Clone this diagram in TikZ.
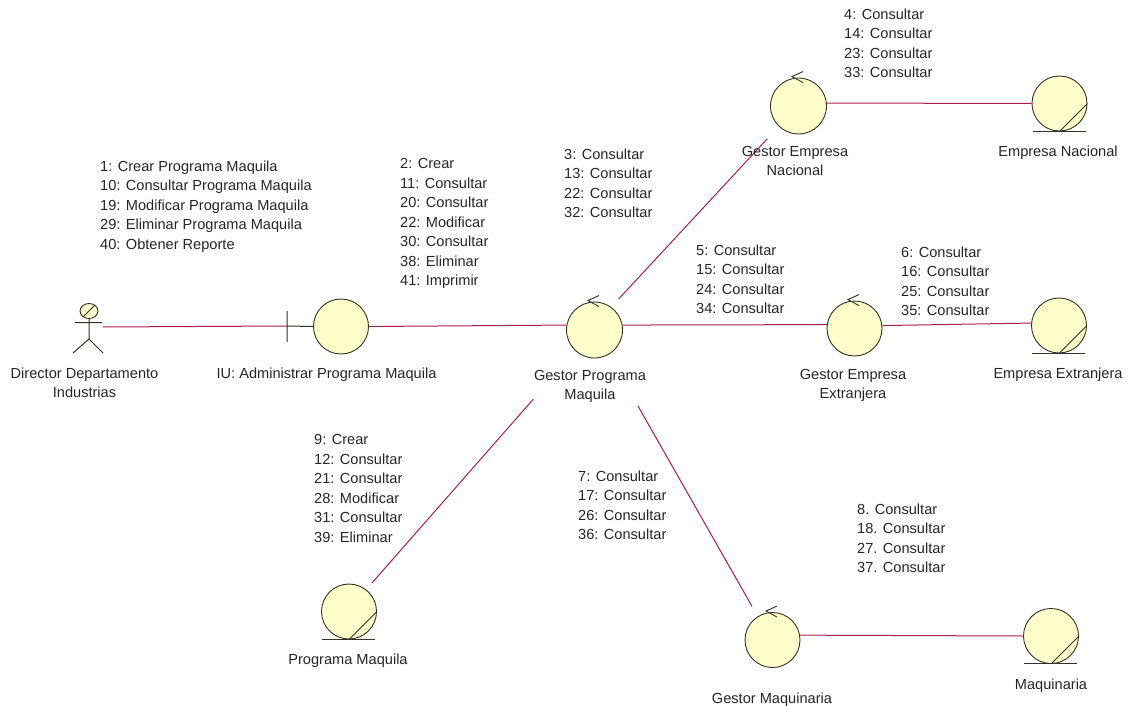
\documentclass[tikz,border=0pt]{standalone}
\usepackage{fontspec}
\usetikzlibrary{shapes.geometric}
\setmainfont{Liberation Sans}
\definecolor{fillc}{RGB}{255,255,204}
\definecolor{linkc}{RGB}{170,30,75}
\definecolor{edgec}{RGB}{50,50,40}
\tikzset{
  obj/.style={circle,draw=edgec,fill=fillc,line width=0.9pt,minimum size=#1,inner sep=0pt},
  obj/.default=55pt,
  assoc/.style={draw=linkc,line width=1pt},
  markline/.style={draw=edgec,line width=1pt},
  txt/.style={inner sep=0pt,font=\fontsize{14.6}{19.5}\selectfont,text=black!85},
  msg/.style={txt,align=left,anchor=north west},
  captiontext/.style={txt,align=center,anchor=north}
}
\begin{document}
\begin{tikzpicture}[x=1pt,y=-1pt]
\useasboundingbox (0,0) rectangle (1132,706);
% objects
\node[obj] (iu) at (341,326.5) {};
\node[obj=56pt] (gp) at (594.5,330) {};
\node[obj=56pt] (gn) at (798.5,106) {};
\node[obj] (en) at (1059.5,103.5) {};
\node[obj] (ge) at (854.5,328.5) {};
\node[obj] (ex) at (1059,325.5) {};
\node[obj] (gm) at (772.5,640) {};
\node[obj] (ma) at (1051,636) {};
\node[obj] (pm) at (349,611.5) {};
% actor
\node[ellipse,draw=edgec,fill=fillc,line width=0.9pt,minimum width=18pt,minimum height=15pt,inner sep=0pt] (head) at (89,311) {};
\coordinate (hip) at (89,339);
\coordinate (armL) at (75,322.5);
\coordinate (armR) at (102,322.5);
\coordinate (footL) at (73,353);
\coordinate (footR) at (103,353);
\coordinate (actorhand) at (103,327);
\draw[markline] (head.south) -- (hip) (armL) -- (armR) (hip) -- (footL) (hip) -- (footR);
\draw[markline] (head.225) -- (head.45);
% boundary
\coordinate (barT) at (287,311);
\coordinate (barB) at (287,342);
\coordinate (barM) at (287,326);
\draw[markline] (barT) -- (barB) (barM) -- (iu.west);
% control arrows
\foreach \n in {gp,gn,ge,gm}{
  \draw[markline,line width=0.9pt] ([xshift=4.5pt,yshift=-5pt]\n.north) -- ([xshift=-6.5pt,yshift=1pt]\n.north) -- ([xshift=4.5pt,yshift=6pt]\n.north);
}
% entity marks
\foreach \n in {en,ex,ma,pm}{
  \draw[markline] ([xshift=-27pt]\n.south) -- ([xshift=26pt]\n.south);
  \draw[markline] (\n.south) -- (\n.east);
}
% connectors
\draw[assoc] (actorhand) -- (barM);
\draw[assoc] (iu.east) -- (gp.170);
\draw[assoc,shorten <=11pt,shorten >=17pt] (gp.54) -- (gn.226);
\draw[assoc] (gp.10) -- (ge.172);
\draw[assoc] (gn.6) -- (en.west);
\draw[assoc] (ge.6) -- (ex.175);
\draw[assoc,shorten <=64pt,shorten >=8.6pt] (gp.228) -- (pm.52);
\draw[assoc,shorten <=59pt,shorten >=11.4pt] (gp.300) -- (gm.122);
\draw[assoc] (gm.10) -- (ma.west);
% captions
\node[captiontext] at (84.5,367.5) {Director Departamento\\Industrias};
\node[captiontext] at (326.5,367.5) {IU: Administrar Programa Maquila};
\node[captiontext] at (590,370) {Gestor Programa\\Maquila};
\node[captiontext] at (795,146) {Gestor Empresa\\Nacional};
\node[captiontext] at (1058,145.5) {Empresa Nacional};
\node[captiontext] at (853,369) {Gestor Empresa\\Extranjera};
\node[captiontext] at (1058,367.5) {Empresa Extranjera};
\node[captiontext] at (772,692.5) {Gestor Maquinaria};
\node[captiontext] at (1051,678.5) {Maquinaria};
\node[captiontext] at (348,653.5) {Programa Maquila};
% messages
\node[msg] at (100,160.5) {1: Crear Programa Maquila\\10: Consultar Programa Maquila\\19: Modificar Programa Maquila\\29: Eliminar Programa Maquila\\40: Obtener Reporte};
\node[msg] at (400,158.5) {2: Crear\\11: Consultar\\20: Consultar\\22: Modificar\\30: Consultar\\38: Eliminar\\41: Imprimir};
\node[msg] at (564,148.5) {3: Consultar\\13: Consultar\\22: Consultar\\32: Consultar};
\node[msg] at (844,8.5) {4: Consultar\\14: Consultar\\23: Consultar\\33: Consultar};
\node[msg] at (696,244.5) {5: Consultar\\15: Consultar\\24: Consultar\\34: Consultar};
\node[msg] at (901,246.5) {6: Consultar\\16: Consultar\\25: Consultar\\35: Consultar};
\node[msg] at (578,470.5) {7: Consultar\\17: Consultar\\26: Consultar\\36: Consultar};
\node[msg] at (857,503.5) {8. Consultar\\18. Consultar\\27. Consultar\\37. Consultar};
\node[msg] at (314,434.5) {9: Crear\\12: Consultar\\21: Consultar\\28: Modificar\\31: Consultar\\39: Eliminar};
\end{tikzpicture}
\end{document}
